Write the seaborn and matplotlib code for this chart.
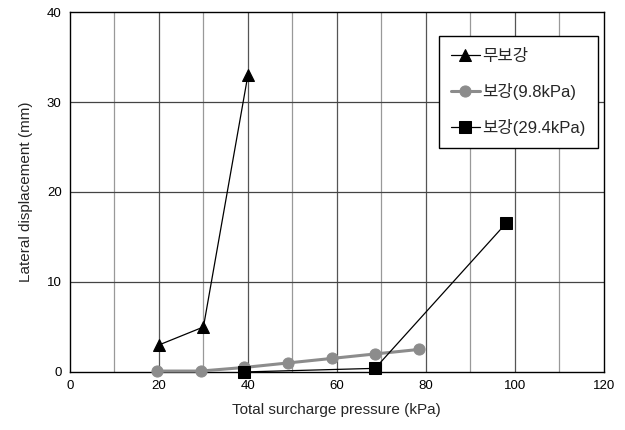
import matplotlib
matplotlib.use("Agg")
import matplotlib.pyplot as plt
import seaborn as sns
import pandas as pd

# Data
x_none = [20, 30, 40]
y_none = [3.0, 5.0, 33.0]
x_98 = [19.6, 29.4, 39.2, 49.0, 58.8, 68.6, 78.4]
y_98 = [0.1, 0.1, 0.5, 1.0, 1.5, 2.0, 2.5]
x_294 = [39.2, 68.6, 98.0]
y_294 = [0.0, 0.4, 16.5]
labels = ["무보강", "보강(9.8kPa)", "보강(29.4kPa)"]
xticks = [0, 20, 40, 60, 80, 100, 120]
yticks = [0, 10, 20, 30, 40]

sns.set_theme(style="white")
plt.rcParams['font.family'] = ['Liberation Sans', 'Noto Sans CJK KR', 'DejaVu Sans']

df = pd.concat([
    pd.DataFrame({"x": x_none, "y": y_none, "s": labels[0]}),
    pd.DataFrame({"x": x_98, "y": y_98, "s": labels[1]}),
    pd.DataFrame({"x": x_294, "y": y_294, "s": labels[2]}),
])

fig = plt.figure(figsize=(6.25, 4.3), dpi=100)
ax = fig.add_axes([0.112, 0.135, 0.854, 0.837])

# grid
for v in range(10, 120, 10):
    c = "#555555" if v % 20 == 0 else "#999999"
    ax.axvline(v, color=c, lw=0.9, zorder=0)
for v in range(10, 40, 10):
    ax.axhline(v, color="#444444", lw=0.9, zorder=0)

styles = {
    labels[0]: dict(color="black", marker="^", ms=8, lw=0.9),
    labels[1]: dict(color="#8c8c8c", marker="o", ms=8, lw=2.2),
    labels[2]: dict(color="black", marker="s", ms=8, lw=0.9),
}
for lab in labels:
    st = styles[lab]
    sns.lineplot(data=df[df.s == lab], x="x", y="y", ax=ax, label=lab,
                 color=st["color"], marker=st["marker"], markersize=st["ms"],
                 linewidth=st["lw"], markeredgecolor=st["color"], estimator=None,
                 sort=False, zorder=3, clip_on=False)

ax.set_xlim(0, 120)
ax.set_ylim(0, 40)
ax.set_xticks(xticks)
ax.set_yticks(yticks)
ax.tick_params(labelsize=9.5, colors="black", length=0, pad=6)
for s in ax.spines.values():
    s.set_color("black")
    s.set_linewidth(1.0)
ax.set_xlabel("Total surcharge pressure (kPa)", fontsize=11, labelpad=8)
ax.set_ylabel("Lateral displacement (mm)", fontsize=11, labelpad=10)

leg = ax.legend(loc="upper left", bbox_to_anchor=(0.691, 0.933), fontsize=12,
                frameon=True, fancybox=False, edgecolor="black", framealpha=1,
                labelspacing=1.15, handlelength=1.7, handletextpad=0.15,
                borderpad=0.75, borderaxespad=0, markerscale=1.0)
leg.get_frame().set_linewidth(1.0)

fig.savefig("out.png", dpi=100)
